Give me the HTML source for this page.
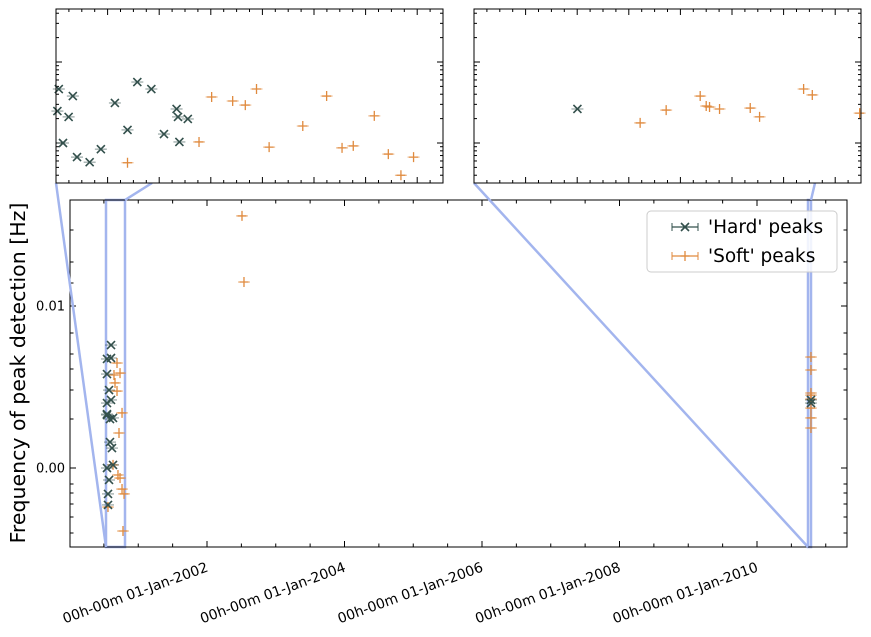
<!DOCTYPE html>
<html><head><meta charset="utf-8"><style>
body{margin:0;background:#fff}
svg{display:block;font-family:"DejaVu Sans","Liberation Sans",sans-serif}
</style></head><body>
<svg id="c" width="871" height="637" xmlns="http://www.w3.org/2000/svg"></svg>
<script>
// ---- data (decimal year, Hz) ----
const mainHardYears=[2000.604,2000.545,2000.604,2000.545,2000.575,2000.545,2000.604,2000.545,2000.545,2000.633,2000.589,2000.589,2000.618,2000.545,2000.633,2000.575,2000.560,2000.560,2010.785,2010.785];
const mainHardVals=[0.00759,0.00673,0.00679,0.0058,0.00481,0.00401,0.0042,0.00333,0.00327,0.00309,0.00302,0.0016,0.00123,0,0.00019,-0.00074,-0.0016,-0.00228,0.0042,0.00401];
const mainSoftYears=[2000.691,2000.647,2000.735,2000.662,2000.691,2000.764,2000.720,2000.633,2000.705,2000.735,2000.764,2000.793,2000.560,2000.778,2002.509,2002.538,2010.785,2010.785,2010.785,2010.785,2010.785,2010.785,2010.785,2010.785];
const mainSoftVals=[0.00648,0.00574,0.00586,0.00525,0.00475,0.0034,0.00216,0.00019,-0.00043,-0.00062,-0.0013,-0.0016,-0.00241,-0.00389,0.01556,0.01148,0.00685,0.00605,0.00463,0.0045,0.00426,0.0037,0.00309,0.00247];
const insetHardYears=[2000.533,2000.532,2000.536,2000.546,2000.540,2000.543,2000.555,2000.563,2000.573,2000.582,2000.589,2000.599,2000.608,2000.617,2000.618,2000.619,2000.625,2010.7575];
const insetHardVals=[0.00464,0.00248,0.001,0.00067,0.0021,0.0038,0.00058,0.00084,0.00312,0.00145,0.00566,0.00464,0.00129,0.00263,0.0021,0.00103,0.00198,0.00263];
const insetSoftYears=[2000.582,2000.633,2000.642,2000.657,2000.666,2000.674,2000.683,2000.707,2000.724,2000.735,2000.743,2000.758,2000.768,2000.777,2000.786,2010.7669,2010.7708,2010.7759,2010.7768,2010.7773,2010.7788,2010.7834,2010.7848,2010.7914,2010.7927,2010.7998];
const insetSoftVals=[0.00057,0.00103,0.0037,0.0033,0.00294,0.00464,0.00089,0.00162,0.0038,0.00087,0.00092,0.00216,0.00073,0.0004,0.00067,0.00177,0.00255,0.0038,0.00286,0.00278,0.00263,0.0027,0.0021,0.00464,0.00392,0.00234];
const xTickYears=[2002,2004,2006,2008,2010];
const xTickLabels=["00h-00m 01-Jan-2002","00h-00m 01-Jan-2004","00h-00m 01-Jan-2006","00h-00m 01-Jan-2008","00h-00m 01-Jan-2010"];
const yTickVals=[0,0.01];
const yTickLabels=["0.00","0.01"];

const svg=document.getElementById('c');
const NS="http://www.w3.org/2000/svg";
function mk(tag,a,p){const e=document.createElementNS(NS,tag);for(const k in a)e.setAttribute(k,a[k]);(p||svg).appendChild(e);return e;}

const M={l:70,r:847,t:200,b:547};
const mx=y=>207+(y-2002)*68.75;
const my=v=>468-v*16200;
const HC="#33504c",SC="#e08a3e";

function xMark(g,x,y,c){
  mk('line',{x1:x-6,y1:y,x2:x+6,y2:y,stroke:c,'stroke-width':1,opacity:0.6},g);
  mk('path',{d:`M${x-4},${y-4}L${x+4},${y+4}M${x-4},${y+4}L${x+4},${y-4}`,stroke:c,'stroke-width':1.6,fill:'none'},g);
}
function pMark(g,x,y,c){
  mk('line',{x1:x-6,y1:y,x2:x+6,y2:y,stroke:c,'stroke-width':1,opacity:0.7},g);
  mk('path',{d:`M${x-4.5},${y}L${x+4.5},${y}M${x},${y-5}L${x},${y+5}`,stroke:c,'stroke-width':1.3,fill:'none'},g);
}

const mg=mk('g',{});


for(let yr=2000;yr<=2011.3;yr+=0.5){const x=mx(yr);if(x<M.l||x>M.r)continue;const major=Math.abs(yr%2)<1e-6;const L=major?6:3.5;
 mk('line',{x1:x,y1:M.b,x2:x,y2:M.b-L,stroke:'#000'},mg);mk('line',{x1:x,y1:M.t,x2:x,y2:M.t+L,stroke:'#000'},mg);}
xTickYears.forEach((yr,i)=>{const t=mk('text',{x:0,y:0,'font-size':14,'text-anchor':'end',transform:`translate(${mx(yr)+2},${M.b+24}) rotate(-20)`},mg);t.textContent=xTickLabels[i];
 });
const minorY=[230,262,283,333,354,369,390,419,484,493,504,517,533];
minorY.forEach(y=>{mk('line',{x1:M.l,y1:y,x2:M.l+3.5,y2:y,stroke:'#000'},mg);mk('line',{x1:M.r,y1:y,x2:M.r-3.5,y2:y,stroke:'#000'},mg);});
yTickVals.forEach((v,i)=>{const y=my(v);mk('line',{x1:M.l,y1:y,x2:M.l+6,y2:y,stroke:'#000'},mg);mk('line',{x1:M.r,y1:y,x2:M.r-6,y2:y,stroke:'#000'},mg);
 const t=mk('text',{x:M.l-5,y:y+4.5,'font-size':13,'text-anchor':'end'},mg);t.textContent=yTickLabels[i];
 });
const ZC="#a3b5ee";
mk('rect',{x:106,y:200,width:19,height:347,fill:'none',stroke:ZC,'stroke-width':2.5},mg);
mk('rect',{x:808,y:200,width:3,height:347,fill:'none',stroke:ZC,'stroke-width':2.5},mg);
mk('line',{x1:56,y1:183,x2:106,y2:547,stroke:ZC,'stroke-width':2.5});
mk('line',{x1:152,y1:183,x2:125,y2:200,stroke:ZC,'stroke-width':2.5});
mk('line',{x1:474,y1:183,x2:808,y2:547,stroke:ZC,'stroke-width':2.5});
mk('line',{x1:815,y1:183,x2:811,y2:200,stroke:ZC,'stroke-width':2.5});
mainSoftYears.forEach((yr,i)=>pMark(mg,mx(yr),my(mainSoftVals[i]),SC));
mainHardYears.forEach((yr,i)=>xMark(mg,mx(yr),my(mainHardVals[i]),HC));
mk('rect',{x:M.l,y:M.t,width:M.r-M.l,height:M.b-M.t,fill:'none',stroke:'#000','stroke-width':1},mg);
const yl=mk('text',{x:0,y:0,'font-size':20.5,'text-anchor':'middle',transform:'translate(25,373) rotate(-90)'});
yl.textContent='Frequency of peak detection [Hz]';

const lg=mk('g',{});

mk('rect',{x:647,y:211,width:190,height:61,rx:4,fill:'#fff','fill-opacity':0.85,stroke:'#ccc'},lg);
xMark(lg,685,227,HC);mk('line',{x1:672,y1:227,x2:698,y2:227,stroke:HC,'stroke-width':1.3},lg);
mk('line',{x1:672,y1:223,x2:672,y2:231,stroke:HC},lg);mk('line',{x1:698,y1:223,x2:698,y2:231,stroke:HC},lg);
pMark(lg,685,256,SC);mk('line',{x1:672,y1:256,x2:698,y2:256,stroke:SC,'stroke-width':1.3},lg);
mk('line',{x1:672,y1:252,x2:672,y2:260,stroke:SC},lg);mk('line',{x1:698,y1:252,x2:698,y2:260,stroke:SC},lg);
let t1=mk('text',{x:708,y:233,'font-size':18.5},lg);t1.textContent="'Hard' peaks";

let t2=mk('text',{x:708,y:262,'font-size':18.5},lg);t2.textContent="'Soft' peaks";


function inset(name,x0,y0,y1){
  const g=mk('g',{});
  
  mk('rect',{x:x0,y:9,width:387,height:174,fill:'#fff'},g);
  const ix=v=>x0+(v-y0)/(y1-y0)*387;
  const iy=v=>62-81*(Math.log10(v)+2);
  for(let x=x0;x<=x0+387;x+=12.9){const k=Math.round((x-x0)/12.9);const L=k%4===0?6:3;
    mk('line',{x1:x,y1:183,x2:x,y2:183-L,stroke:'#000'},g);mk('line',{x1:x,y1:9,x2:x,y2:9+L,stroke:'#000'},g);}
  for(let d=-4;d<=-1;d++)for(let k=1;k<10;k++){const y=iy(k*Math.pow(10,d));if(y<9||y>183)continue;const L=k===1?6:3;
    mk('line',{x1:x0,y1:y,x2:x0+L,y2:y,stroke:'#000'},g);mk('line',{x1:x0+387,y1:y,x2:x0+387-L,y2:y,stroke:'#000'},g);}
  const cp=mk('g',{},g);
  insetSoftYears.forEach((yr,i)=>{const x=ix(yr);if(x<x0-3||x>x0+390)return;pMark(cp,x,iy(insetSoftVals[i]),SC);});
  insetHardYears.forEach((yr,i)=>{const x=ix(yr);if(x<x0-3||x>x0+390)return;xMark(cp,x,iy(insetHardVals[i]),HC);});
  mk('rect',{x:x0,y:9,width:387,height:174,fill:'none',stroke:'#000'},g);
}
inset('inset-left',56,2000.531,2000.807);
inset('inset-right',474,2010.742,2010.800);
</script>
</body></html>
